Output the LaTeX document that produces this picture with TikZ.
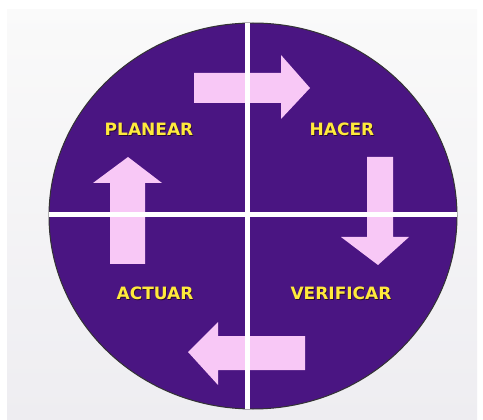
\documentclass[tikz,border=0pt]{standalone}
\usepackage{fontspec}
\newfontfamily\labelfont{DejaVu Sans}
\definecolor{disc}{HTML}{4A1582}
\definecolor{pinkarrow}{HTML}{F8C8F6}
\definecolor{labelyellow}{HTML}{FFEA3C}
\definecolor{labelshadow}{HTML}{2A0A30}
\definecolor{panel}{HTML}{EEEDF1}
\begin{document}
\begin{tikzpicture}[x=1pt,y=-1pt,
  arrowshape/.style={fill=pinkarrow,draw=none},
  divider/.style={draw=white,line width=5pt},
  phase/.style={font=\labelfont\bfseries\fontsize{17}{19}\selectfont,text=labelyellow,inner sep=0pt},
  phaseshadow/.style={font=\labelfont\bfseries\fontsize{17}{19}\selectfont,text=labelshadow,inner sep=0pt}]
\useasboundingbox (0,0) rectangle (483,420);
\fill[white] (0,0) rectangle (483,420);
\shade[top color=gray!4,bottom color=panel] (7,10) rectangle (477,420);
% disc
\fill[disc,draw=black!80,line width=1pt] (253,216) ellipse [x radius=204,y radius=193];
% arrows
\fill[arrowshape] (194,73) -- (281,73) -- (281,55) -- (310,88) -- (281,119) -- (281,103) -- (194,103) -- cycle;
\fill[arrowshape] (367,157) -- (393,157) -- (393,237) -- (409,237) -- (378,265) -- (341,237) -- (367,237) -- cycle;
\fill[arrowshape] (110,264) -- (110,183) -- (93,183) -- (128,157) -- (162,183) -- (145,183) -- (145,264) -- cycle;
\fill[arrowshape] (305,336) -- (218,336) -- (218,322) -- (188,352) -- (218,385) -- (218,370) -- (305,370) -- cycle;
% dividers
\coordinate (vtop) at (247,23);
\coordinate (vbot) at (247,409);
\coordinate (hl) at (49,215);
\coordinate (hr) at (457,215);
\draw[divider] (vtop) -- (vbot);
\draw[divider] (hl) -- (hr);
% labels
\node[phaseshadow] (planears) at (149.8,130) {PLANEAR};
\node[phase] (planear) at (149,129) {PLANEAR};
\node[phaseshadow] (hacers) at (342.8,130) {HACER};
\node[phase] (hacer) at (342,129) {HACER};
\node[phaseshadow] (actuars) at (155.8,294) {ACTUAR};
\node[phase] (actuar) at (155,293) {ACTUAR};
\node[phaseshadow] (verificars) at (341.8,294) {VERIFICAR};
\node[phase] (verificar) at (341,293) {VERIFICAR};
\end{tikzpicture}
\end{document}
